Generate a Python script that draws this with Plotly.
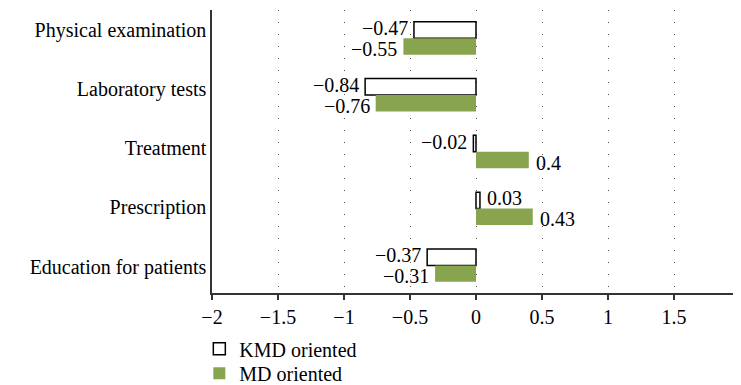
import plotly.graph_objects as go

categories = ["Physical examination", "Laboratory tests", "Treatment", "Prescription", "Education for patients"]
kmd_values = [-0.47, -0.84, -0.02, 0.03, -0.37]
md_values = [-0.55, -0.76, 0.40, 0.43, -0.31]
series_names = ["KMD oriented", "MD oriented"]
x_ticks = [-2, -1.5, -1, -0.5, 0, 0.5, 1, 1.5, 2]

FONT = "Liberation Serif, 'Times New Roman', Times, serif"
FS = 20
GREEN = "#88A44F"

idx = list(range(len(categories)))

def fmt(v):
    return f"{v:g}".replace("-", "\u2212")

fig = go.Figure()
fig.add_trace(go.Bar(
    y=idx, x=kmd_values, orientation="h", name=series_names[0], legend="legend",
    marker=dict(color="white", line=dict(color="black", width=1.5)),
))
fig.add_trace(go.Bar(
    y=idx, x=md_values, orientation="h", name=series_names[1], legend="legend2",
    marker=dict(color=GREEN, line=dict(color=GREEN, width=0)),
))

# value labels: KMD slightly above its bar, MD slightly below
for vals, dy in ((kmd_values, -0.18), (md_values, 0.19)):
    for i, v in zip(idx, vals):
        fig.add_annotation(
            x=v, y=i + dy, text=fmt(v), showarrow=False,
            xanchor="right" if v < 0 else "left", yanchor="middle",
            xshift=-4 if v < 0 else 5,
            font=dict(family=FONT, size=FS, color="black"),
        )

# category labels sit on a slightly different spacing than the bar groups
tickvals = [-0.146 + 1.042 * i for i in idx]

leg_common = dict(x=-0.024, xanchor="left", yanchor="top", orientation="v",
                  font=dict(family=FONT, size=FS, color="black"),
                  bgcolor="rgba(0,0,0,0)")

# page body has an 8px default margin; size the figure so it fits the window
fig.update_layout(
    width=733, height=377,
    margin=dict(l=204, r=1, t=2, b=92, autoexpand=False),
    paper_bgcolor="white", plot_bgcolor="white",
    barmode="group", bargap=0.42, bargroupgap=0,
    font=dict(family=FONT, size=FS, color="black"),
    showlegend=True,
    legend=dict(y=-0.128, **leg_common),
    legend2=dict(y=-0.215, **leg_common),
    xaxis=dict(range=[-2, 2], tickvals=x_ticks,
               ticktext=[fmt(t) for t in x_ticks], automargin=False,
               showgrid=True, gridcolor="#555555", gridwidth=1, griddash="1px,11px",
               zeroline=False, showline=True, linecolor="#333333", linewidth=1.5,
               ticks="outside", ticklen=5, tickcolor="#333333", tickwidth=1.5,
               tickfont=dict(family=FONT, size=FS, color="black")),
    yaxis=dict(range=[4.486, -0.498], tickvals=tickvals, ticktext=categories,
               automargin=False,
               showgrid=False, zeroline=False, showline=True, linecolor="#333333",
               linewidth=1.5, ticks="", ticklen=0,
               tickfont=dict(family=FONT, size=FS, color="black")),
)

fig.write_html("out.html")
